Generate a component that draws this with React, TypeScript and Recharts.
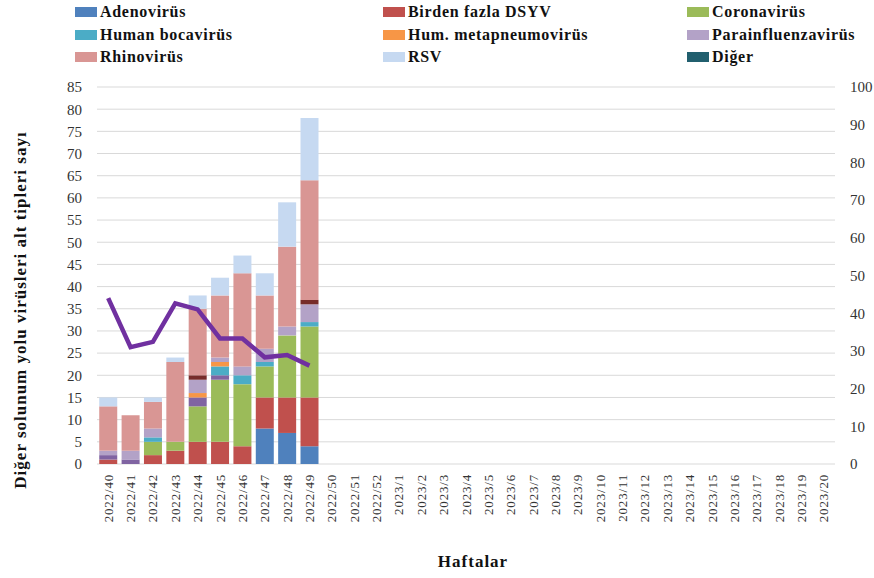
import { ComposedChart, Bar, Line, XAxis, YAxis, CartesianGrid } from "recharts";

const weeks = [
  "2022/40", "2022/41", "2022/42", "2022/43", "2022/44", "2022/45", "2022/46", "2022/47", "2022/48", "2022/49",
  "2022/50", "2022/51", "2022/52", "2023/1", "2023/2", "2023/3", "2023/4", "2023/5", "2023/6", "2023/7",
  "2023/8", "2023/9", "2023/10", "2023/11", "2023/12", "2023/13", "2023/14", "2023/15", "2023/16", "2023/17",
  "2023/18", "2023/19", "2023/20",
];

// counts per week (only first 10 weeks reported)
const adeno = [0, 0, 0, 0, 0, 0, 0, 8, 7, 4];
const birden = [1, 0, 2, 3, 5, 5, 4, 7, 8, 11];
const corona = [0, 0, 3, 2, 8, 14, 14, 7, 14, 16];
const ekMor = [1, 1, 0, 0, 2, 1, 0, 0, 0, 0];
const boca = [0, 0, 1, 0, 0, 2, 2, 1, 0, 1];
const metap = [0, 0, 0, 0, 1, 1, 0, 0, 0, 0];
const para = [1, 2, 2, 0, 3, 1, 2, 3, 2, 4];
const ekKahve = [0, 0, 0, 0, 1, 0, 0, 0, 0, 1];
const rhino = [10, 8, 6, 18, 15, 14, 21, 12, 18, 27];
const rsv = [2, 0, 1, 1, 3, 4, 4, 5, 10, 14];
const diger = [0, 0, 0, 0, 0, 0, 0, 0, 0, 0];
// purple line, right axis (%)
const oran = [44, 31, 32.4, 42.6, 41, 33.3, 33.3, 28.3, 28.9, 26.1];

const leftTicks = [0, 5, 10, 15, 20, 25, 30, 35, 40, 45, 50, 55, 60, 65, 70, 75, 80, 85];
const rightTicks = [0, 10, 20, 30, 40, 50, 60, 70, 80, 90, 100];

const series = [
  { key: "adeno", name: "Adenovirüs", color: "#4f81bd", values: adeno, legend: true },
  { key: "birden", name: "Birden fazla DSYV", color: "#c0504d", values: birden, legend: true },
  { key: "corona", name: "Coronavirüs", color: "#9bbb59", values: corona, legend: true },
  { key: "ekMor", name: "ekMor", color: "#8064a2", values: ekMor, legend: false },
  { key: "boca", name: "Human bocavirüs", color: "#4bacc6", values: boca, legend: true },
  { key: "metap", name: "Hum. metapneumovirüs", color: "#f79646", values: metap, legend: true },
  { key: "para", name: "Parainfluenzavirüs", color: "#b3a2c7", values: para, legend: true },
  { key: "ekKahve", name: "ekKahve", color: "#772c2a", values: ekKahve, legend: false },
  { key: "rhino", name: "Rhinovirüs", color: "#d99694", values: rhino, legend: true },
  { key: "rsv", name: "RSV", color: "#c6d9f1", values: rsv, legend: true },
  { key: "diger", name: "Diğer", color: "#215f6e", values: diger, legend: true },
];

const data = weeks.map((w, i) => {
  const row: Record<string, any> = { week: w, oran: i < oran.length ? oran[i] : null };
  series.forEach((s) => {
    row[s.key] = i < s.values.length ? s.values[i] : null;
  });
  return row;
});

const FONT = '"Liberation Serif", "Times New Roman", serif';
const legendCols = [75, 383, 687];
const legendRows = [12, 35, 57];

const WeekTick = (props: any) => {
  const { x, y, payload } = props;
  const ty = y + 2;
  return (
    <text
      x={x}
      y={ty}
      transform={`rotate(-90, ${x}, ${ty})`}
      textAnchor="end"
      dy="0.35em"
      fontSize={13}
      letterSpacing={0.8}
      fontFamily={FONT}
      fill="#333"
    >
      {payload.value}
    </text>
  );
};

export default function App() {
  const legendItems = series.filter((s) => s.legend);
  return (
    <div style={{ position: "absolute", left: 0, top: 0, width: 874, height: 578, background: "#fff", fontFamily: FONT }}>
      {legendItems.map((s, i) => (
        <div
          key={s.key}
          style={{
            position: "absolute",
            left: legendCols[i % 3],
            top: legendRows[Math.floor(i / 3)] - 10,
            height: 20,
            display: "flex",
            alignItems: "center",
            whiteSpace: "nowrap",
          }}
        >
          <span style={{ display: "inline-block", width: 22, height: 10, background: s.color, marginRight: 3 }} />
          <span style={{ fontSize: 16, fontWeight: "bold", letterSpacing: 0.7, color: "#111" }}>{s.name}</span>
        </div>
      ))}

      <ComposedChart
        width={874}
        height={578}
        data={data}
        margin={{ top: 87, right: 9, bottom: 0, left: 0 }}
        barCategoryGap="10%"
      >
        <CartesianGrid yAxisId="left" vertical={false} stroke="#d9d9d9" />
        <XAxis
          dataKey="week"
          interval={0}
          height={114}
          tickLine={false}
          axisLine={false}
          tick={<WeekTick />}
        />
        <YAxis
          yAxisId="left"
          width={97}
          domain={[0, 85]}
          ticks={leftTicks}
          interval={0}
          tickLine={false}
          axisLine={false}
          tickMargin={9}
          tick={{ fontSize: 15, fontFamily: FONT, fill: "#333" }}
        />
        <YAxis
          yAxisId="right"
          orientation="right"
          width={30}
          domain={[0, 100]}
          ticks={rightTicks}
          interval={0}
          tickLine={false}
          axisLine={false}
          tickMargin={9}
          tick={{ fontSize: 15, fontFamily: FONT, fill: "#333", textAnchor: "start" }}
        />
        {series.map((s) => (
          <Bar
            key={s.key}
            yAxisId="left"
            dataKey={s.key}
            name={s.name}
            stackId="a"
            fill={s.color}
            isAnimationActive={false}
          />
        ))}
        <Line
          yAxisId="right"
          dataKey="oran"
          type="linear"
          stroke="#7030a0"
          strokeWidth={4.5}
          dot={false}
          isAnimationActive={false}
        />
      </ComposedChart>

      <div
        style={{
          position: "absolute",
          left: 21,
          top: 310,
          transform: "translate(-50%, -50%) rotate(-90deg)",
          fontSize: 17,
          fontWeight: "bold",
          letterSpacing: 1,
          whiteSpace: "nowrap",
          color: "#111",
        }}
      >
        Diğer solunum yolu virüsleri alt tipleri sayı
      </div>
      <div
        style={{
          position: "absolute",
          left: 473,
          top: 562,
          transform: "translate(-50%, -50%)",
          fontSize: 17,
          fontWeight: "bold",
          letterSpacing: 1,
          whiteSpace: "nowrap",
          color: "#111",
        }}
      >
        Haftalar
      </div>
    </div>
  );
}
